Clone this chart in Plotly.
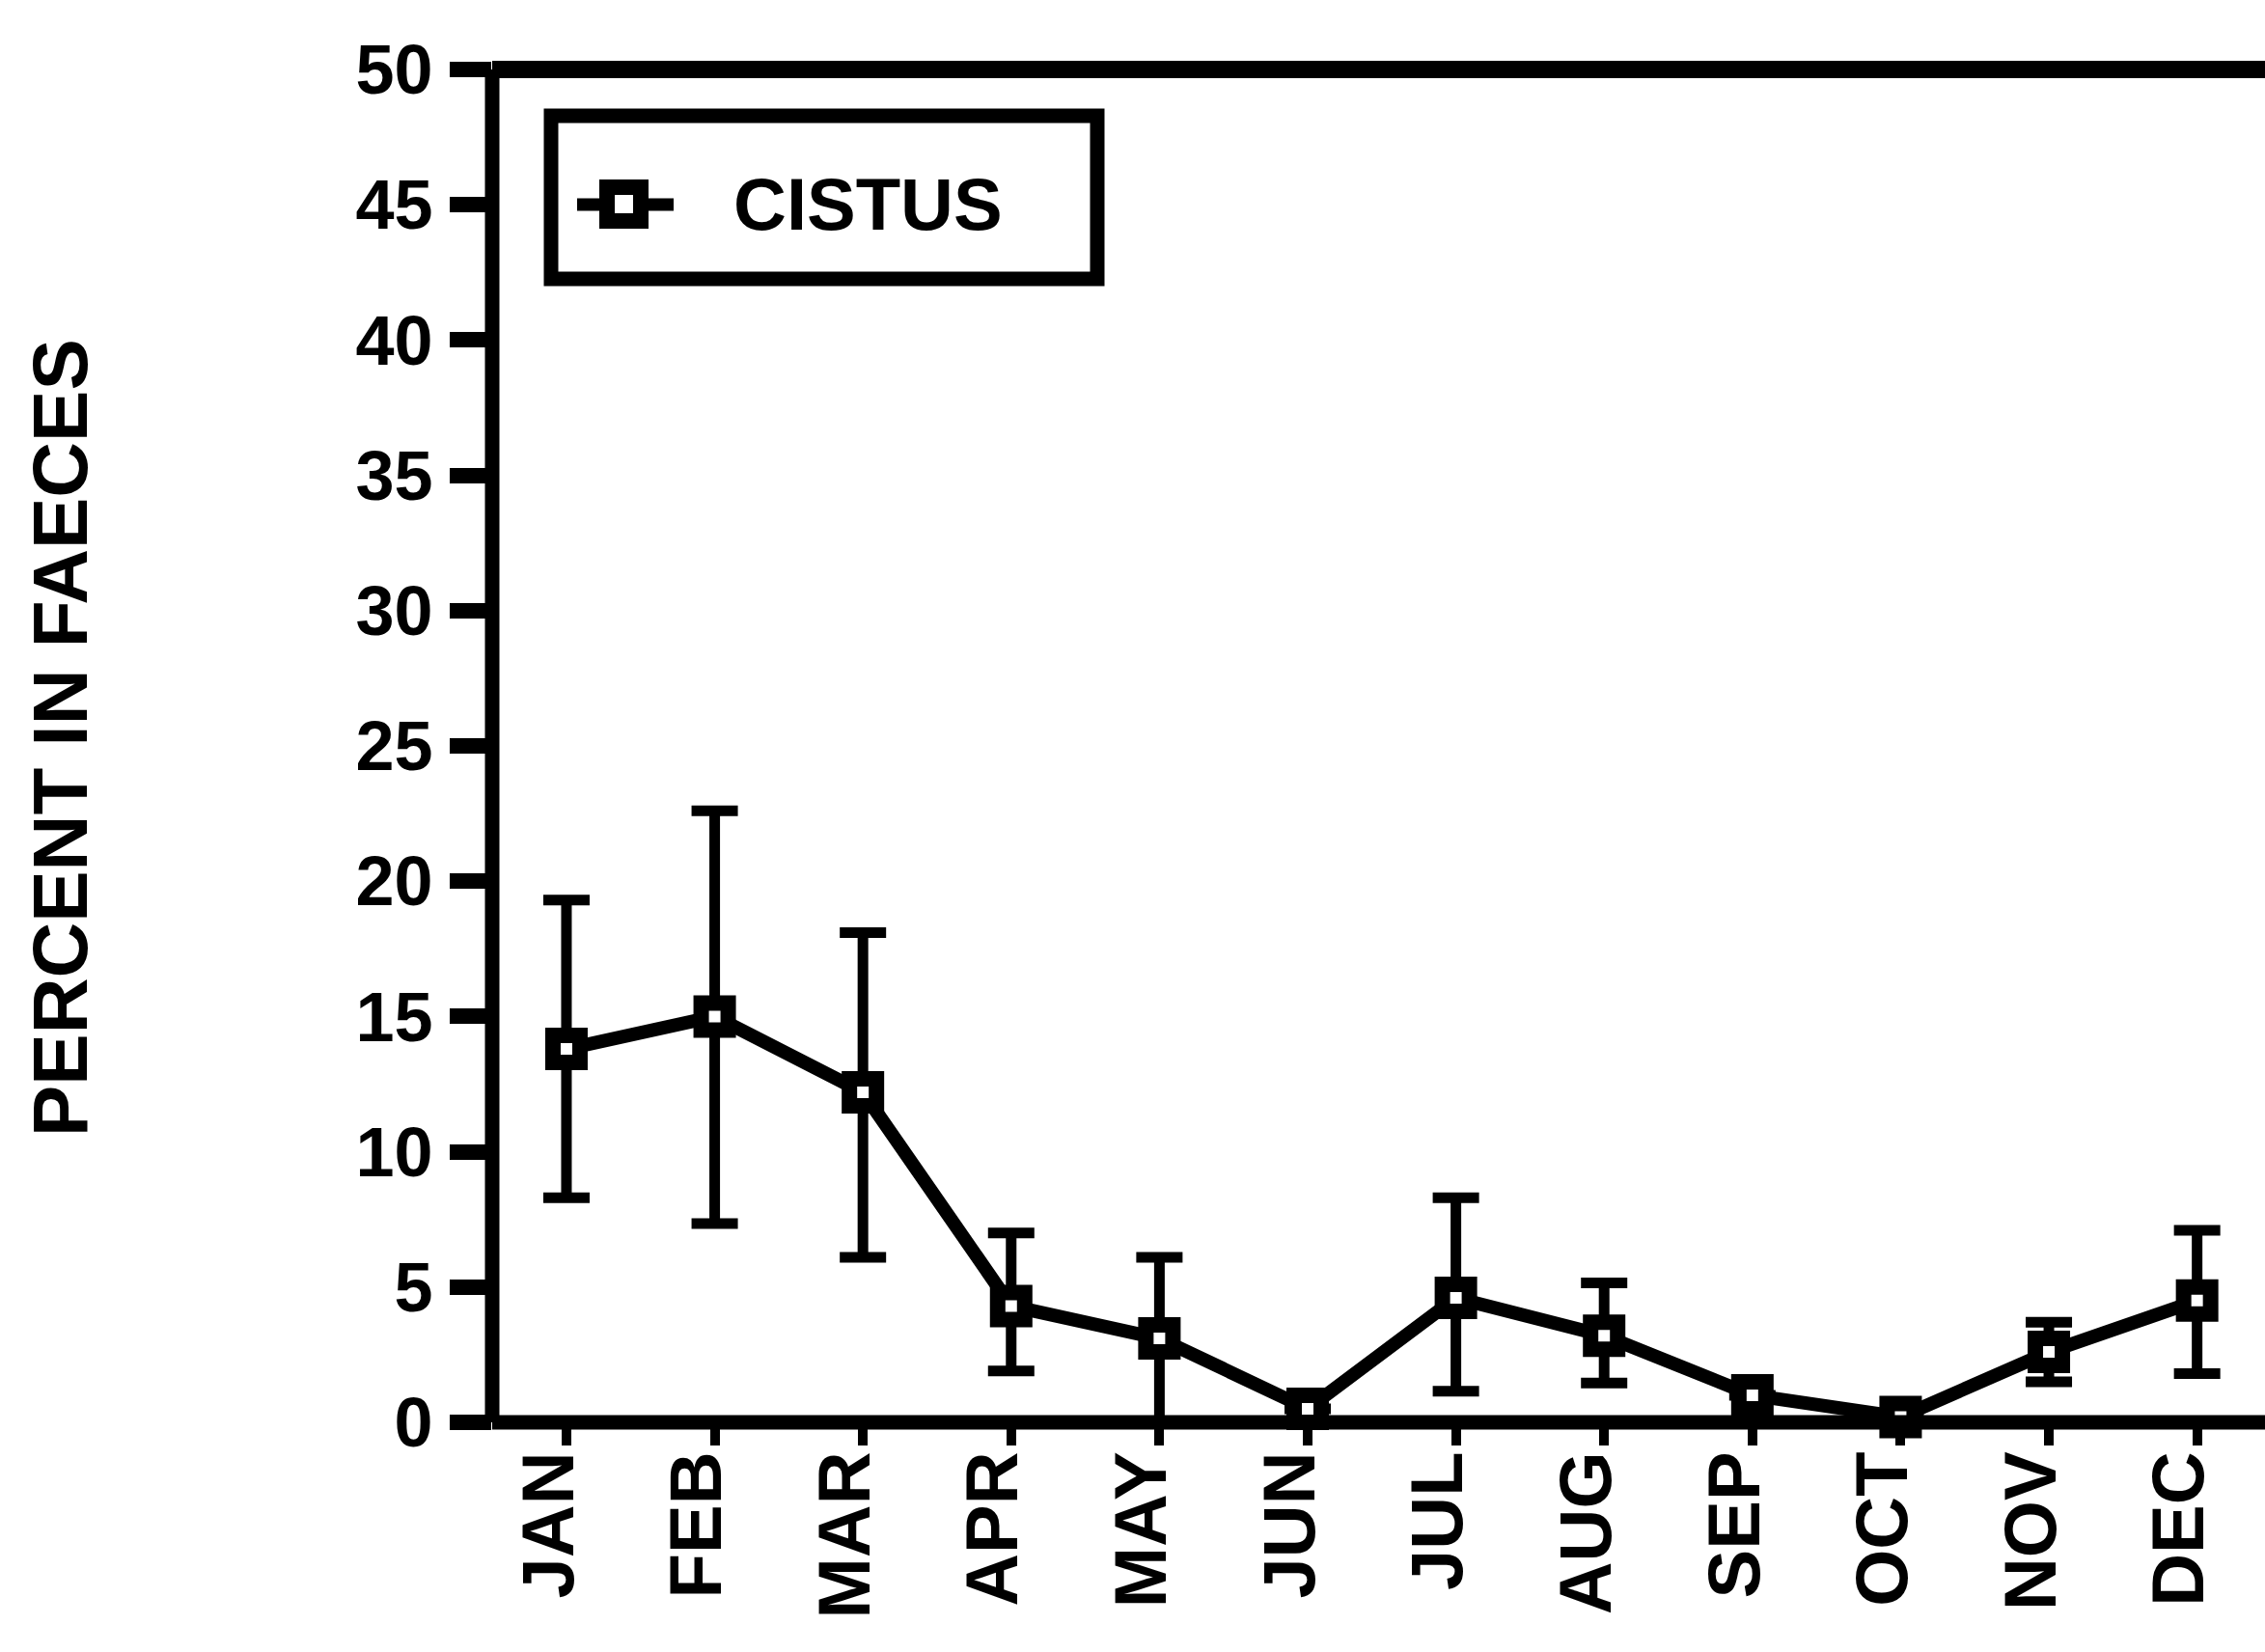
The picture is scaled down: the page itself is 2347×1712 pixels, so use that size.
import plotly.graph_objects as go

# Monthly share of Cistus in faeces (mean with range bars)
months = ["JAN", "FEB", "MAR", "APR", "MAY", "JUN",
          "JUL", "AUG", "SEP", "OCT", "NOV", "DEC"]
cistus_mean = [13.8, 15.0, 12.2, 4.3, 3.1, 0.5, 4.6, 3.2, 1.0, 0.2, 2.6, 4.5]
cistus_upper = [19.3, 22.6, 18.1, 7.0, 6.1, None, 8.3, 5.15, None, None, 3.7, 7.1]
cistus_lower = [8.3, 7.35, 6.1, 1.9, 0.0, None, 1.15, 1.45, None, None, 1.5, 1.8]
y_ticks = [0, 5, 10, 15, 20, 25, 30, 35, 40, 45, 50]
series_name = "CISTUS"
y_title = "PERCENT IN FAECES"

err_plus = [None if u is None else u - m for u, m in zip(cistus_upper, cistus_mean)]
err_minus = [None if lo is None else m - lo for lo, m in zip(cistus_lower, cistus_mean)]

W, H = 2347, 1712
L, T, B, R = 510, 72, 238, 0
plot_w = W - L - R
plot_h = H - T - B


def px_x(px):
    return (px - L) / plot_w


def px_y(py):
    return (H - B - py) / plot_h


FONT = "Liberation Sans"
INK = "black"

fig = go.Figure()
fig.add_trace(go.Scatter(
    x=months,
    y=cistus_mean,
    mode="lines+markers",
    name=series_name,
    line=dict(color=INK, width=14),
    marker=dict(symbol="square", size=28, color="white",
                line=dict(color=INK, width=16)),
    error_y=dict(type="data", symmetric=False, array=err_plus,
                 arrayminus=err_minus, color=INK, thickness=11, width=24),
    cliponaxis=False,
    showlegend=False,
))

shapes = []
# plot frame: left axis, bottom axis, top border
frame_w = 15
shapes.append(dict(type="line", xref="paper", yref="paper", x0=0, x1=0, y0=0, y1=1,
                   line=dict(color=INK, width=frame_w)))
shapes.append(dict(type="line", xref="paper", yref="paper", x0=0, x1=1, y0=0, y1=0,
                   line=dict(color=INK, width=frame_w)))
shapes.append(dict(type="line", xref="paper", yref="paper", x0=0, x1=1, y0=1, y1=1,
                   line=dict(color=INK, width=18)))

# legend box with sample line and marker
shapes.append(dict(type="rect", xref="paper", yref="paper",
                   x0=px_x(571), x1=px_x(1137), y0=px_y(120), y1=px_y(289),
                   line=dict(color=INK, width=15), fillcolor="white", layer="above"))
shapes.append(dict(type="line", xref="paper", yref="paper",
                   x0=px_x(598), x1=px_x(698), y0=px_y(212), y1=px_y(212),
                   line=dict(color=INK, width=13), layer="above"))
shapes.append(dict(type="rect", xref="paper", yref="paper",
                   x0=px_x(629), x1=px_x(664), y0=px_y(194), y1=px_y(229),
                   line=dict(color=INK, width=16), fillcolor="white", layer="above"))

annotations = [
    dict(text=series_name, xref="paper", yref="paper", x=px_x(758), y=px_y(211),
         xanchor="left", yanchor="middle", showarrow=False,
         font=dict(family=FONT, size=76, color=INK, weight="bold")),
    dict(text=y_title, xref="paper", yref="paper", x=px_x(62), y=px_y(765),
         xanchor="center", yanchor="middle", textangle=-90, showarrow=False,
         font=dict(family=FONT, size=80, color=INK, weight="bold")),
]

fig.update_layout(
    width=W, height=H,
    margin=dict(l=L, r=R, t=T, b=B, pad=0),
    paper_bgcolor="white", plot_bgcolor="white",
    shapes=shapes,
    annotations=annotations,
    showlegend=False,
    xaxis=dict(
        type="category",
        categoryorder="array", categoryarray=months,
        range=[-0.501, 11.458],
        showline=False, showgrid=False, zeroline=False,
        ticks="outside", ticklen=23, tickwidth=10, tickcolor=INK,
        tickangle=-90, ticklabelstandoff=-24, ticklabelshift=-18,
        tickfont=dict(family=FONT, size=76, color=INK, weight="bold"),
    ),
    yaxis=dict(
        range=[0, 50],
        tickmode="array", tickvals=y_ticks, ticktext=[str(v) for v in y_ticks],
        showline=False, showgrid=False, zeroline=False,
        ticks="outside", ticklen=43, tickwidth=16, tickcolor=INK,
        ticklabelstandoff=3,
        tickfont=dict(family=FONT, size=72, color=INK, weight="bold"),
    ),
)

fig.write_html("out.html")
